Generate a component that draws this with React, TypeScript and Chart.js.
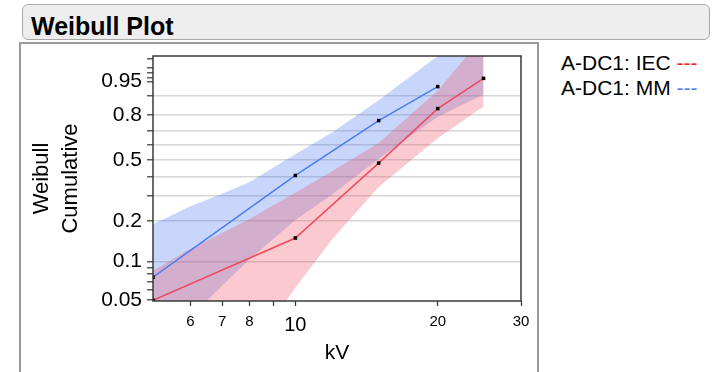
import React, { useEffect, useRef } from 'react';
import { Chart, registerables } from 'chart.js';

Chart.register(...registerables);

// Breakdown voltage (kV) and cumulative failure probability for each method
const kvMM = [5, 10, 15, 20];
const probMM = [0.0756, 0.407, 0.766, 0.935];
const kvIEC = [5, 10, 15, 20, 25];
const probIEC = [0.05, 0.1506, 0.482, 0.837, 0.9586];

// Confidence bands, sampled on a common kV grid
const bandKv = [5, 6, 7, 8, 10, 12, 15, 20, 25];
const mmUpper = [0.19, 0.255, 0.31, 0.37, 0.54, 0.69, 0.88, 0.992, 0.9999];
const mmLower = [0.019, 0.037, 0.065, 0.104, 0.204, 0.309, 0.51, 0.79, 0.905];
const iecUpper = [0.085, 0.125, 0.164, 0.207, 0.315, 0.435, 0.615, 0.92, 0.9991];
const iecLower = [0.0016, 0.0043, 0.0096, 0.0194, 0.0626, 0.149, 0.344, 0.648, 0.848];

// Axis ticks
const yTickProbs = [0.05, 0.06, 0.07, 0.08, 0.09, 0.1, 0.2, 0.3, 0.4, 0.5, 0.6, 0.7, 0.8, 0.9, 0.95, 0.96, 0.97, 0.98, 0.99];
const yTickLabels = ['0.05', '', '', '', '', '0.1', '0.2', '', '', '0.5', '', '', '0.8', '', '0.95', '', '', '', ''];
const yGridProbs = [0.1, 0.2, 0.3, 0.4, 0.5, 0.6, 0.7, 0.8, 0.9];
const xTickValues = [6, 7, 8, 9, 10, 20, 30];
const xTickLabels = ['6', '7', '8', '', '10', '20', '30'];

const FONT = "'Liberation Sans', Arial, Helvetica, sans-serif";

// Weibull probability paper: y = ln(-ln(1 - F))
const weibull = (p: number) => Math.log(-Math.log(1 - p));

const toPoints = (xs: number[], ps: number[]) => xs.map((x, i) => ({ x, y: weibull(ps[i]) }));

const frame = {
  id: 'plotFrame',
  afterDraw(chart: any) {
    const { ctx, chartArea: a } = chart;
    ctx.save();
    ctx.strokeStyle = '#3a3a3a';
    ctx.lineWidth = 1.5;
    ctx.strokeRect(a.left, a.top, a.right - a.left, a.bottom - a.top);
    ctx.restore();
  },
};

function WeibullChart() {
  const ref = useRef<HTMLCanvasElement>(null);

  useEffect(() => {
    if (!ref.current) return;
    const gridFlags = yTickProbs.map((p) => yGridProbs.some((g) => Math.abs(g - p) < 1e-9));
    const blueBand = 'rgba(70,120,240,0.3)';
    const redBand = 'rgba(240,80,100,0.3)';

    const chart = new Chart(ref.current, {
      type: 'line',
      data: {
        datasets: [
          {
            label: 'A-DC1: MM',
            data: toPoints(kvMM, probMM),
            borderColor: '#4a7cf2',
            borderWidth: 1.5,
            pointStyle: 'rect',
            pointRadius: 2.5,
            pointBackgroundColor: '#000',
            pointBorderWidth: 0,
            fill: false,
            order: 1,
          },
          {
            label: 'A-DC1: IEC',
            data: toPoints(kvIEC, probIEC),
            borderColor: '#f04a5c',
            borderWidth: 1.5,
            pointStyle: 'rect',
            pointRadius: 2.5,
            pointBackgroundColor: '#000',
            pointBorderWidth: 0,
            fill: false,
            order: 1,
          },
          {
            label: 'MM upper',
            data: toPoints(bandKv, mmUpper),
            borderWidth: 0,
            pointRadius: 0,
            backgroundColor: blueBand,
            fill: '+1',
            order: 5,
          },
          {
            label: 'MM lower',
            data: toPoints(bandKv, mmLower),
            borderWidth: 0,
            pointRadius: 0,
            fill: false,
            order: 5,
          },
          {
            label: 'IEC upper',
            data: toPoints(bandKv, iecUpper),
            borderWidth: 0,
            pointRadius: 0,
            backgroundColor: redBand,
            fill: '+1',
            order: 4,
          },
          {
            label: 'IEC lower',
            data: toPoints(bandKv, iecLower),
            borderWidth: 0,
            pointRadius: 0,
            fill: false,
            order: 4,
          },
        ],
      },
      options: {
        responsive: false,
        animation: false,
        devicePixelRatio: 1,
        layout: { padding: { left: 0, top: 12, right: 17, bottom: 0 } },
        plugins: {
          legend: { display: false },
          tooltip: { enabled: false },
        },
        scales: {
          x: {
            type: 'logarithmic',
            min: 5,
            max: 30,
            border: { display: false },
            grid: { drawOnChartArea: false, tickLength: 5, tickColor: '#333', tickWidth: 1.2 },
            ticks: {
              autoSkip: false,
              maxRotation: 0,
              padding: 7,
              color: '#000',
              font: (ctx: any) => ({ family: FONT, size: ctx.tick && ctx.tick.value === 10 ? 20 : 15 }),
              callback: (_v: any, i: number) => xTickLabels[i],
            },
            afterBuildTicks: (scale: any) => {
              scale.ticks = xTickValues.map((v) => ({ value: v }));
            },
            afterFit: (scale: any) => {
              scale.height = 71;
              scale.paddingLeft = 0;
              scale.paddingRight = 0;
            },
            title: {
              display: true,
              text: 'kV',
              color: '#000',
              font: { family: FONT, size: 21, lineHeight: 1.2 },
              padding: { top: 0, bottom: 6.4 },
            },
          },
          y: {
            type: 'linear',
            min: weibull(0.05) - 0.015,
            max: weibull(0.992),
            border: { display: false },
            grid: {
              color: (ctx: any) => (gridFlags[ctx.index] ? '#d6d6d6' : 'rgba(0,0,0,0)'),
              lineWidth: 1.6,
              tickLength: 6,
              tickColor: '#333',
              tickWidth: 1.2,
            },
            ticks: {
              autoSkip: false,
              padding: 5,
              color: '#000',
              font: { family: FONT, size: 21 },
              callback: (_v: any, i: number) => yTickLabels[i],
            },
            afterBuildTicks: (scale: any) => {
              scale.ticks = yTickProbs.map((p) => ({ value: weibull(p) }));
            },
            afterFit: (scale: any) => {
              scale.width = 132;
              scale.paddingTop = 0;
              scale.paddingBottom = 0;
            },
            title: {
              display: true,
              text: ['Weibull', 'Cumulative'],
              color: '#000',
              font: { family: FONT, size: 22, lineHeight: 29 / 22 },
              padding: { top: 6.5, bottom: 0 },
            },
          },
        },
      },
      plugins: [frame],
    } as any);

    return () => chart.destroy();
  }, []);

  return <canvas ref={ref} width={517} height={328} style={{ width: 517, height: 328, display: 'block' }} />;
}

export default function App() {
  return (
    <div
      style={{
        position: 'fixed',
        left: 0,
        top: 0,
        width: 715,
        height: 372,
        overflow: 'hidden',
        background: '#fff',
        fontFamily: FONT,
      }}
    >
      {/* Section header */}
      <div
        style={{
          position: 'absolute',
          left: 22,
          top: 4,
          width: 688,
          height: 36,
          boxSizing: 'border-box',
          border: '1px solid #a8a8a8',
          borderRadius: 6,
          background: '#eeeeee',
        }}
      />
      <div
        style={{
          position: 'absolute',
          left: 31,
          top: 14,
          fontSize: 25,
          lineHeight: 1,
          fontWeight: 'bold',
          color: '#000',
          whiteSpace: 'nowrap',
        }}
      >
        Weibull Plot
      </div>

      {/* Plot panel */}
      <div
        style={{
          position: 'absolute',
          left: 19,
          top: 42,
          width: 520,
          height: 340,
          boxSizing: 'border-box',
          borderLeft: '2px solid #9a9a9a',
          borderTop: '2px solid #9a9a9a',
          borderRight: '2px solid #9a9a9a',
        }}
      />
      <div style={{ position: 'absolute', left: 21, top: 44 }}>
        <WeibullChart />
      </div>

      {/* Legend */}
      <div
        style={{
          position: 'absolute',
          left: 561,
          top: 50,
          fontSize: 21,
          lineHeight: '25px',
          color: '#000',
          whiteSpace: 'nowrap',
        }}
      >
        <div>
          A-DC1: IEC <span style={{ color: '#f02020' }}>---</span>
        </div>
        <div>
          A-DC1: MM <span style={{ color: '#4d80e0' }}>---</span>
        </div>
      </div>
    </div>
  );
}
